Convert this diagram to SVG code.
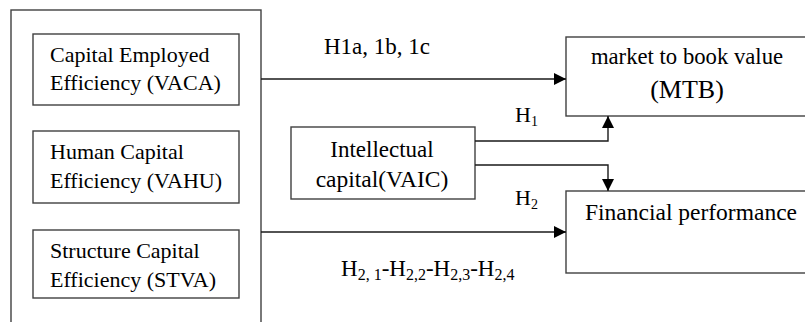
<svg xmlns="http://www.w3.org/2000/svg" width="805" height="322" viewBox="0 0 805 322">
<defs>
<style>
.box{fill:#fff;stroke:#404040;stroke-width:1.4}
.ln{fill:none;stroke:#1a1a1a;stroke-width:1.4}
text{font-family:"Liberation Serif","Times New Roman",serif;fill:#000;font-size:23px}
.in{font-size:22px}
.c{text-anchor:middle}
.sub{font-size:16px}
</style>
<marker id="ah" markerWidth="12" markerHeight="12" viewBox="0 0 12 12" refX="12" refY="6" orient="auto" markerUnits="userSpaceOnUse">
<path d="M0,0 L12,6 L0,12 Z" fill="#000"/>
</marker>
</defs>
<rect width="805" height="322" fill="#fff"/>
<g id="outer"><rect class="box" x="11" y="10" width="250" height="330"/></g>
<g id="vaca"><rect class="box" x="33" y="34" width="206" height="71"/>
<text class="in" x="50" y="62">Capital Employed</text><text class="in" x="50" y="90">Efficiency (VACA)</text></g>
<g id="vahu"><rect class="box" x="33" y="131" width="206" height="72"/>
<text class="in" x="50" y="159">Human Capital</text><text class="in" x="50" y="188">Efficiency (VAHU)</text></g>
<g id="stva"><rect class="box" x="33" y="230" width="206" height="68"/>
<text class="in" x="50" y="258">Structure Capital</text><text class="in" x="50" y="287">Efficiency (STVA)</text></g>
<g id="vaic"><rect class="box" x="291" y="127" width="184" height="72"/>
<text class="c" x="382" y="157">Intellectual</text><text class="c" x="382" y="187" style="font-size:23.5px">capital(VAIC)</text></g>
<g id="mtb"><rect class="box" x="566" y="37" width="250" height="79"/>
<text class="c" x="687" y="64" style="font-size:22.7px">market to book value</text><text class="c" x="687" y="98" style="font-size:26px">(MTB)</text></g>
<g id="fp"><rect class="box" x="566" y="191" width="250" height="82"/>
<text class="c" x="691" y="220" style="font-size:23.5px">Financial performance</text></g>
<g id="connectors">
<line class="ln" x1="261" y1="79" x2="566" y2="79" marker-end="url(#ah)"/>
<line class="ln" x1="261" y1="232" x2="566" y2="232" marker-end="url(#ah)"/>
<polyline class="ln" points="475,141 608,141 608,116" marker-end="url(#ah)"/>
<polyline class="ln" points="475,165 608,165 608,191" marker-end="url(#ah)"/>
</g>
<g id="labels">
<text x="324" y="54">H1a, 1b, 1c</text>
<text x="515" y="122" style="font-size:22px">H<tspan class="sub" dy="4" style="font-size:14px">1</tspan></text>
<text x="515" y="205" style="font-size:22px">H<tspan class="sub" dy="4" style="font-size:14px">2</tspan></text>
<text x="341" y="276">H<tspan class="sub" dy="4">2, 1</tspan><tspan dy="-4">-H</tspan><tspan class="sub" dy="4">2,2</tspan><tspan dy="-4">-H</tspan><tspan class="sub" dy="4">2,3</tspan><tspan dy="-4">-H</tspan><tspan class="sub" dy="4">2,4</tspan></text>
</g>
</svg>
